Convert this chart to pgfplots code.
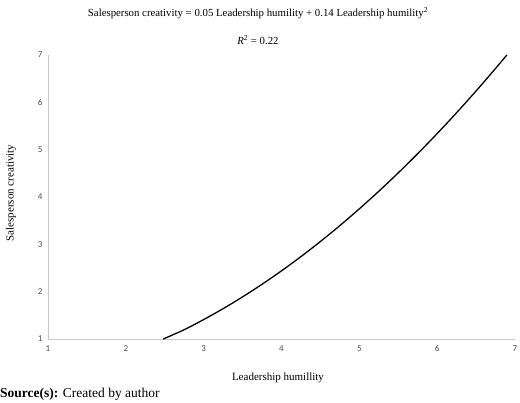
\documentclass[border=0pt]{standalone}
\usepackage{pgfplots}
\pgfplotsset{compat=1.18}
\usepackage{fontspec}
\setmainfont{Liberation Serif}
\newfontfamily\calfont{Carlito}
\begin{document}
\begin{tikzpicture}
\path[use as bounding box] (-48pt,-64pt) rectangle (472pt,339pt);
\begin{axis}[
    at={(0,0)}, anchor=south west,
    scale only axis,
    width=467pt, height=284pt,
    xmin=1, xmax=7, ymin=1, ymax=7,
    xtick={1,2,3,4,5,6,7},
    ytick={1,2,3,4,5,6,7},
    axis lines*=left,
    axis line style={gray!45, line width=0.8pt, -},
    tick style={draw=none},
    /pgf/number format/assume math mode=true,
    tick label style={font=\calfont\fontsize{9}{10}\selectfont, text=black!70},
    xticklabel style={yshift=-3pt},
    yticklabel style={xshift=-2pt},
    clip=false,
]
% fitted curve: 0.05x + 0.14x^2, values listed
\addplot[black, line width=1.3pt, smooth] coordinates {
    (2.48, 1.000)
    (2.75, 1.196)
    (3.00, 1.410)
    (3.25, 1.641)
    (3.50, 1.890)
    (3.75, 2.156)
    (4.00, 2.440)
    (4.25, 2.741)
    (4.50, 3.060)
    (4.75, 3.396)
    (5.00, 3.750)
    (5.25, 4.121)
    (5.50, 4.510)
    (5.75, 4.916)
    (6.00, 5.340)
    (6.25, 5.781)
    (6.50, 6.240)
    (6.75, 6.716)
    (6.895, 7.000)
};
\end{axis}
\node[font=\fontsize{10.8}{12}\selectfont] at (210pt,326pt)
    {Salesperson creativity = 0.05 Leadership humility + 0.14 Leadership humility\textsuperscript{2}};
\node[font=\fontsize{10.8}{12}\selectfont] at (210pt,299pt)
    {\textit{R}\textsuperscript{2} = 0.22};
\node[font=\fontsize{11}{12}\selectfont] at (230pt,-39pt) {Leadership humillity};
\node[font=\fontsize{11}{12}\selectfont, rotate=90] at (-37pt,146pt) {Salesperson creativity};
\node[font=\fontsize{13.5}{15}\selectfont, anchor=west, inner sep=0pt] at (-48pt,-55pt)
    {\textbf{Source(s):} Created by author};
\end{tikzpicture}
\end{document}
